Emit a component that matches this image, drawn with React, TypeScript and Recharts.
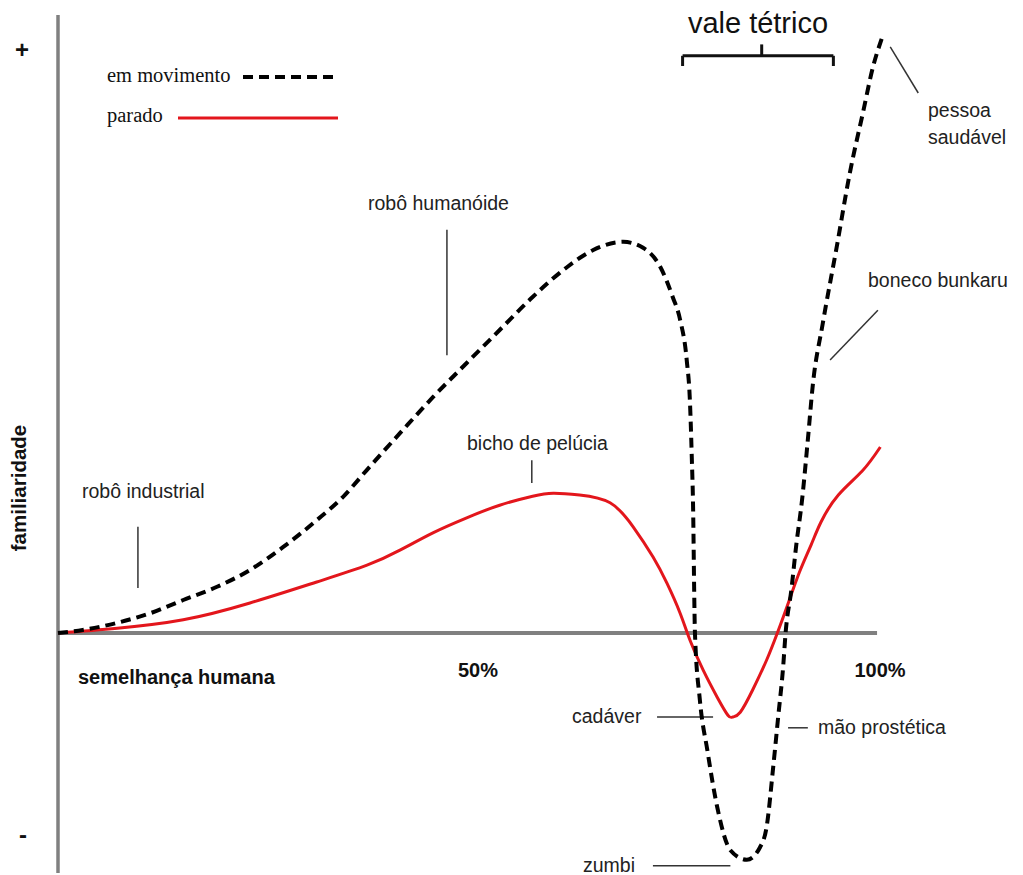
import { LineChart, Line, XAxis, YAxis, ReferenceLine } from 'recharts';

// "em movimento" (dashed) curve — x = human likeness %, y = familiarity
const MOVING_X = [
  0, 3.0, 7.2, 11.2, 15.2, 19.3, 23.3, 27.3, 31.4, 34.6, 37.5, 41.5, 45.5, 49.6, 53.6, 57.6,
  61.8, 64.9, 68.6, 71.0, 73.1, 74.6, 75.5, 76.3, 76.7, 76.9, 77.1, 77.2, 77.3, 77.9, 78.8,
  80.0, 81.6, 83.6, 85.2, 86.0, 86.8, 87.4, 88.0, 88.3, 89.0, 89.6, 90.3, 91.0, 91.6, 92.8,
  94.5, 96.1, 97.7, 98.9, 100,
];
const MOVING_Y = [
  0, 0.5, 1.7, 3.3, 5.5, 7.7, 10.5, 14.3, 18.8, 22.7, 27.2, 33.3, 39.3, 45, 50.5, 56,
  61, 63.8, 65.2, 64.2, 61, 56, 52.2, 45.5, 38.3, 30, 18.8, 7.7, 0, -11.2, -19.5,
  -29, -36.2, -37.8, -35.7, -32.3, -22.3, -14, -5.7, 0, 7.2, 14.7, 22.2, 32.2, 41.3, 51.5,
  64.3, 76.7, 86.8, 94.3, 99.2,
];

// "parado" (red) curve
const STILL_X = [
  0, 7.2, 15.2, 23.3, 31.4, 37.5, 41.5, 45.5, 49.6, 53.6, 57.6, 60.1, 63.3, 67.0, 69.8, 72.2,
  73.9, 75.5, 76.7, 78.3, 80.0, 81.3, 81.9, 82.8, 84.3, 86.0, 87.3, 88.5, 90.0, 91.4, 92.6,
  94.7, 97.6, 99.8,
];
const STILL_Y = [
  0, 0.8, 2.2, 5, 8.5, 11.3, 13.8, 16.7, 19.2, 21.3, 22.8, 23.3, 23.0, 21.7, 17.7, 12.7,
  8.3, 3.3, -1.2, -6.2, -10.7, -13.7, -14, -13.2, -9.5, -4.5, 0, 4.5, 10.2, 14.7, 18.5,
  23, 27, 31,
];

// leader lines for the annotations, in data units
const LEADERS = [
  [9.7, 17.7, 9.7, 7.5], // robô industrial
  [47.2, 67.2, 47.2, 46.3], // robô humanóide
  [57.5, 28.8, 57.5, 25], // bicho de pelúcia
  [101.0, 97.7, 104.4, 90], // pessoa saudável
  [99.5, 53.8, 93.7, 45.5], // boneco bunkaru
  [72.7, -14, 79.5, -14], // cadáver
  [88.6, -15.8, 91.0, -15.8], // mão prostética
  [72.2, -38.8, 81.6, -38.8], // zumbi
];

// bracket over the uncanny valley
const BRACKET = [
  [75.8, 94.5, 75.8, 96.2],
  [75.8, 96.2, 94.1, 96.2],
  [94.1, 96.2, 94.1, 94.5],
  [85.4, 96.2, 85.4, 98.1],
];

const moving = MOVING_X.map((x, i) => ({ x, y: MOVING_Y[i] }));
const still = STILL_X.map((x, i) => ({ x, y: STILL_Y[i] }));

const SANS = '"Liberation Sans", Arial, sans-serif';
const SERIF = '"Liberation Serif", "Times New Roman", serif';
const AXIS_GRAY = '#808080';
const RED = '#e3161c';

const labelStyle = { fontFamily: SANS, fontSize: 19.5, fill: '#222' };
const boldStyle = { fontFamily: SANS, fontSize: 20, fontWeight: 700, fill: '#111' };

export default function App() {
  return (
    <div style={{ position: 'absolute', left: 0, top: 0, width: 1023, height: 875, background: '#fff' }}>
      <LineChart
        width={1023}
        height={875}
        margin={{ top: 15, right: 141, bottom: 2, left: 58 }}
      >
        <XAxis type="number" dataKey="x" domain={[0, 100]} hide />
        <YAxis type="number" dataKey="y" domain={[-40, 103]} hide />
        <ReferenceLine x={0} stroke={AXIS_GRAY} strokeWidth={3.5} />
        <ReferenceLine
          segment={[{ x: 0, y: 0 }, { x: 99.4, y: 0 }]}
          stroke={AXIS_GRAY}
          strokeWidth={4}
        />
        {LEADERS.map(([x1, y1, x2, y2], i) => (
          <ReferenceLine
            key={`lead-${i}`}
            segment={[{ x: x1, y: y1 }, { x: x2, y: y2 }]}
            stroke="#333"
            strokeWidth={1.5}
            ifOverflow="visible"
          />
        ))}
        {BRACKET.map(([x1, y1, x2, y2], i) => (
          <ReferenceLine
            key={`br-${i}`}
            segment={[{ x: x1, y: y1 }, { x: x2, y: y2 }]}
            stroke="#111"
            strokeWidth={3}
            ifOverflow="visible"
          />
        ))}
        <Line
          data={still}
          dataKey="y"
          type="natural"
          stroke={RED}
          strokeWidth={3}
          dot={false}
          activeDot={false}
          isAnimationActive={false}
        />
        <Line
          data={moving}
          dataKey="y"
          type="monotone"
          stroke="#000"
          strokeWidth={4}
          strokeDasharray="10 6"
          dot={false}
          activeDot={false}
          isAnimationActive={false}
        />
      </LineChart>

      <svg
        width={1023}
        height={875}
        style={{ position: 'absolute', left: 0, top: 0, pointerEvents: 'none' }}
      >
        {/* legend */}
        <text x={107} y={82} style={{ fontFamily: SERIF, fontSize: 20.5, fill: '#111' }}>em movimento</text>
        <line x1={243} y1={77} x2={338} y2={77} stroke="#000" strokeWidth={4} strokeDasharray="10 6" />
        <text x={107} y={122} style={{ fontFamily: SERIF, fontSize: 20.5, fill: '#111' }}>parado</text>
        <line x1={178} y1={118} x2={338} y2={118} stroke={RED} strokeWidth={3} />

        {/* axis marks */}
        <text x={22} y={58} textAnchor="middle" style={{ ...boldStyle, fontSize: 24 }}>+</text>
        <text x={23} y={843} textAnchor="middle" style={{ ...boldStyle, fontSize: 24 }}>-</text>
        <text x={26} y={488} textAnchor="middle" transform="rotate(-90 26 488)" style={{ ...boldStyle, fontSize: 20.5 }}>
          familiaridade
        </text>
        <text x={78} y={684} style={boldStyle}>semelhança humana</text>
        <text x={478} y={677} textAnchor="middle" style={boldStyle}>50%</text>
        <text x={880} y={677} textAnchor="middle" style={boldStyle}>100%</text>

        {/* annotations */}
        <text x={758} y={33} textAnchor="middle" style={{ ...labelStyle, fontSize: 29, fill: '#111' }}>vale tétrico</text>
        <text x={82} y={498} style={labelStyle}>robô industrial</text>
        <text x={368} y={210} style={labelStyle}>robô humanóide</text>
        <text x={467} y={450} style={labelStyle}>bicho de pelúcia</text>
        <text x={928} y={117} style={labelStyle}>pessoa</text>
        <text x={928} y={144} style={labelStyle}>saudável</text>
        <text x={868} y={287} style={labelStyle}>boneco bunkaru</text>
        <text x={572} y={723} style={labelStyle}>cadáver</text>
        <text x={818} y={734} style={labelStyle}>mão prostética</text>
        <text x={583} y={872} style={labelStyle}>zumbi</text>
      </svg>
    </div>
  );
}
